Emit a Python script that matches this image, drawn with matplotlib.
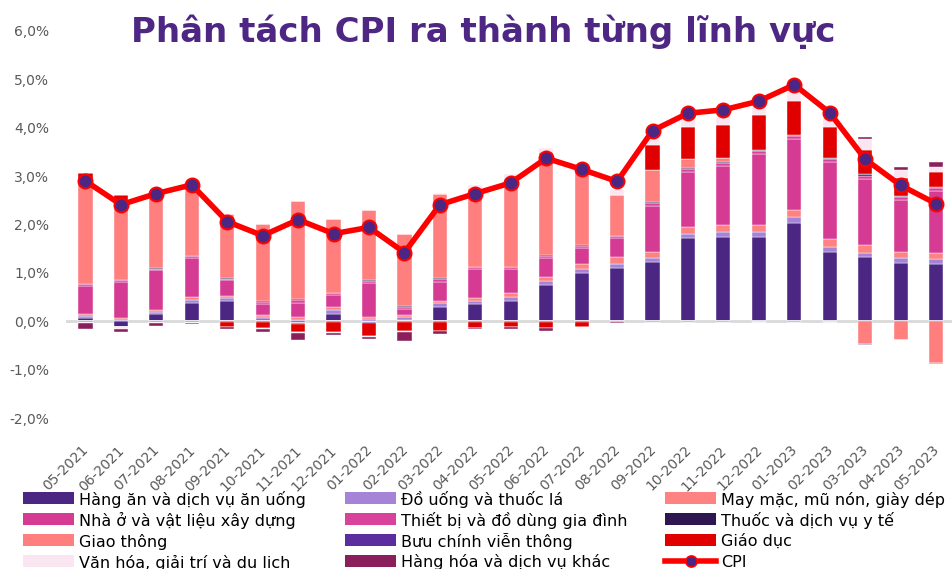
import matplotlib
matplotlib.use("Agg")
import matplotlib.pyplot as plt
import matplotlib.transforms as mtransforms
import numpy as np
from matplotlib.patches import Rectangle
from matplotlib.lines import Line2D

# ---------------------------------------------------------------------------
# Data (% contribution to YoY CPI)
# ---------------------------------------------------------------------------
months = [
    "05-2021", "06-2021", "07-2021", "08-2021", "09-2021", "10-2021", "11-2021",
    "12-2021", "01-2022", "02-2022", "03-2022", "04-2022", "05-2022", "06-2022",
    "07-2022", "08-2022", "09-2022", "10-2022", "11-2022", "12-2022", "01-2023",
    "02-2023", "03-2023", "04-2023", "05-2023",
]

food = [0.06, -0.11, 0.15, 0.37, 0.41, 0.04, -0.04, 0.16, -0.02, 0.03, 0.30, 0.35, 0.42,
        0.74, 1.00, 1.10, 1.22, 1.72, 1.74, 1.74, 2.03, 1.43, 1.33, 1.21, 1.19]
drinks = [0.04, 0.03, 0.04, 0.06, 0.07, 0.05, 0.03, 0.07, 0.04, 0.05, 0.07, 0.07, 0.08,
          0.09, 0.09, 0.09, 0.08, 0.09, 0.10, 0.10, 0.12, 0.10, 0.09, 0.09, 0.09]
clothing = [0.04, 0.03, 0.04, 0.07, 0.05, 0.04, 0.05, 0.07, 0.05, 0.04, 0.05, 0.06, 0.08,
            0.08, 0.09, 0.13, 0.14, 0.14, 0.14, 0.14, 0.16, 0.16, 0.15, 0.14, 0.13]
housing = [0.58, 0.75, 0.82, 0.80, 0.32, 0.22, 0.30, 0.24, 0.70, 0.14, 0.40, 0.60, 0.50,
           0.40, 0.34, 0.40, 0.95, 1.14, 1.23, 1.47, 1.46, 1.61, 1.38, 1.06, 1.28]
equipment = [0.04, 0.04, 0.04, 0.04, 0.03, 0.05, 0.06, 0.04, 0.05, 0.04, 0.06, 0.04, 0.04,
             0.04, 0.04, 0.04, 0.06, 0.06, 0.06, 0.06, 0.06, 0.06, 0.06, 0.06, 0.06]
medicine = [0.01, 0.01, 0.01, 0.01, 0.01, 0.01, 0.01, 0.01, 0.01, 0.01, 0.01, 0.01, 0.01,
            0.01, 0.01, 0.01, 0.02, 0.02, 0.02, 0.02, 0.02, 0.02, 0.03, 0.03, 0.03]
transport = [2.13, 1.60, 1.45, 1.36, 1.33, 1.61, 2.03, 1.52, 1.45, 1.50, 1.75, 1.63, 1.82,
             2.13, 1.61, 0.85, 0.66, 0.18, 0.09, -0.01, 0.00, -0.01, -0.47, -0.38, -0.87]
post = [-0.01, -0.01, -0.01, -0.01, -0.01, -0.01, -0.01, -0.01, -0.01, -0.01, -0.01, -0.01,
        -0.01, -0.02, -0.01, -0.02, -0.01, -0.01, -0.01, -0.01, -0.01, -0.01, -0.02, -0.01, -0.01]
education = [0.16, 0.16, 0.15, 0.14, -0.10, -0.13, -0.18, -0.21, -0.28, -0.20, -0.20, -0.13,
             -0.11, -0.11, -0.10, 0.00, 0.52, 0.67, 0.67, 0.73, 0.70, 0.64, 0.51, 0.38, 0.30]
culture = [-0.03, -0.03, -0.02, -0.02, -0.01, -0.02, -0.02, -0.02, -0.01, -0.01, 0.02, 0.06,
           0.09, 0.10, 0.08, 0.12, 0.15, 0.20, 0.22, 0.18, 0.21, 0.19, 0.22, 0.15, 0.10]
other = [-0.12, -0.08, -0.06, -0.03, -0.04, -0.06, -0.14, -0.05, -0.05, -0.19, -0.06, -0.03,
         -0.05, -0.08, 0.00, -0.01, 0.00, 0.00, 0.00, 0.00, 0.00, 0.00, 0.04, 0.07, 0.11]

cpi = [2.90, 2.41, 2.64, 2.82, 2.06, 1.77, 2.10, 1.81, 1.94, 1.42, 2.41, 2.64, 2.86,
       3.37, 3.14, 2.89, 3.94, 4.30, 4.37, 4.55, 4.89, 4.31, 3.35, 2.81, 2.43]

series = [
    ("Hàng ăn và dịch vụ ăn uống", food, "#4B2683"),
    ("Đồ uống và thuốc lá", drinks, "#A584D8"),
    ("May mặc, mũ nón, giày dép", clothing, "#FF8282"),
    ("Nhà ở và vật liệu xây dựng", housing, "#D63B94"),
    ("Thiết bị và đồ dùng gia đình", equipment, "#D8429B"),
    ("Thuốc và dịch vụ y tế", medicine, "#2E1650"),
    ("Giao thông", transport, "#FF7F7F"),
    ("Bưu chính viễn thông", post, "#5B2D9E"),
    ("Giáo dục", education, "#E00000"),
    ("Văn hóa, giải trí và du lịch", culture, "#F9E6F0"),
    ("Hàng hóa và dịch vụ khác", other, "#8B1F5C"),
]

TEXT_GRAY = "#595959"
W, H = 952, 569

fig = plt.figure(figsize=(W / 100, H / 100), dpi=100)
ax = fig.add_axes([66 / W, 151 / H, 886 / W, 387 / H])

x = np.arange(len(months))
pos_base = np.zeros(len(months))
neg_base = np.zeros(len(months))
for name, vals, color in series:
    v = np.array(vals, dtype=float)
    p = np.where(v > 0, v, 0)
    n = np.where(v < 0, v, 0)
    ax.bar(x, p, width=0.4, bottom=pos_base, color=color, edgecolor="white",
           linewidth=0.3, zorder=2)
    ax.bar(x, n, width=0.4, bottom=neg_base, color=color, edgecolor="white",
           linewidth=0.3, zorder=2)
    pos_base += p
    neg_base += n

ax.axhline(0, color="#D9D9D9", linewidth=2, zorder=1)

ax.plot(x, cpi, color="#FF0000", linewidth=4, marker="o", markersize=10,
        markerfacecolor="#4B2683", markeredgecolor="#FF0000", markeredgewidth=1.5,
        zorder=3)

ax.set_xlim(-0.55, 24.45)
ax.set_ylim(-2, 6)
ax.set_yticks(np.arange(-2, 7, 1))
ax.set_yticklabels([f"{v:.1f}%".replace(".", ",") for v in np.arange(-2, 7, 1)])
ax.set_xticks(x)
ax.set_xticklabels(months, rotation=45, ha="right", rotation_mode="anchor")
ax.tick_params(axis="both", length=0, colors=TEXT_GRAY, labelsize=10)
ax.tick_params(axis="x", pad=18)
ax.tick_params(axis="y", pad=12)
shift = mtransforms.ScaledTranslation(-4 / 100, 0, fig.dpi_scale_trans)
for lbl in ax.get_xticklabels():
    lbl.set_transform(lbl.get_transform() + shift)
for s in ax.spines.values():
    s.set_visible(False)

fig.text(0.508, 0.945, "Phân tách CPI ra thành từng lĩnh vực", ha="center", va="center",
         fontsize=24.5, fontweight="bold", color="#4E2683")

# legend drawn by hand: 3 columns, row-major order, fixed pixel grid
labels = [n for n, _, _ in series] + ["CPI"]
colors = [c for _, _, c in series] + [None]
col_x = [23, 345, 665]
row_y = [498, 519, 540, 561]
for i, (lab, col) in enumerate(zip(labels, colors)):
    r, c = divmod(i, 3)
    x0, yc = col_x[c], row_y[r]
    if col is not None:
        fig.add_artist(Rectangle((x0 / W, 1 - (yc + 6) / H), 51 / W, 12 / H,
                                 transform=fig.transFigure, facecolor=col,
                                 edgecolor="none"))
    else:
        fig.add_artist(Line2D([x0 / W, (x0 + 51) / W], [1 - yc / H, 1 - yc / H],
                              transform=fig.transFigure, color="#FF0000", linewidth=4))
        fig.add_artist(Line2D([(x0 + 25.5) / W], [1 - yc / H], transform=fig.transFigure,
                              marker="o", markersize=8, markerfacecolor="#4B2683",
                              markeredgecolor="#FF0000", markeredgewidth=1.2))
    fig.text((x0 + 56) / W, 1 - yc / H, lab, ha="left", va="center_baseline",
             fontsize=11.5, color="black")

fig.savefig("out.png", dpi=100)
